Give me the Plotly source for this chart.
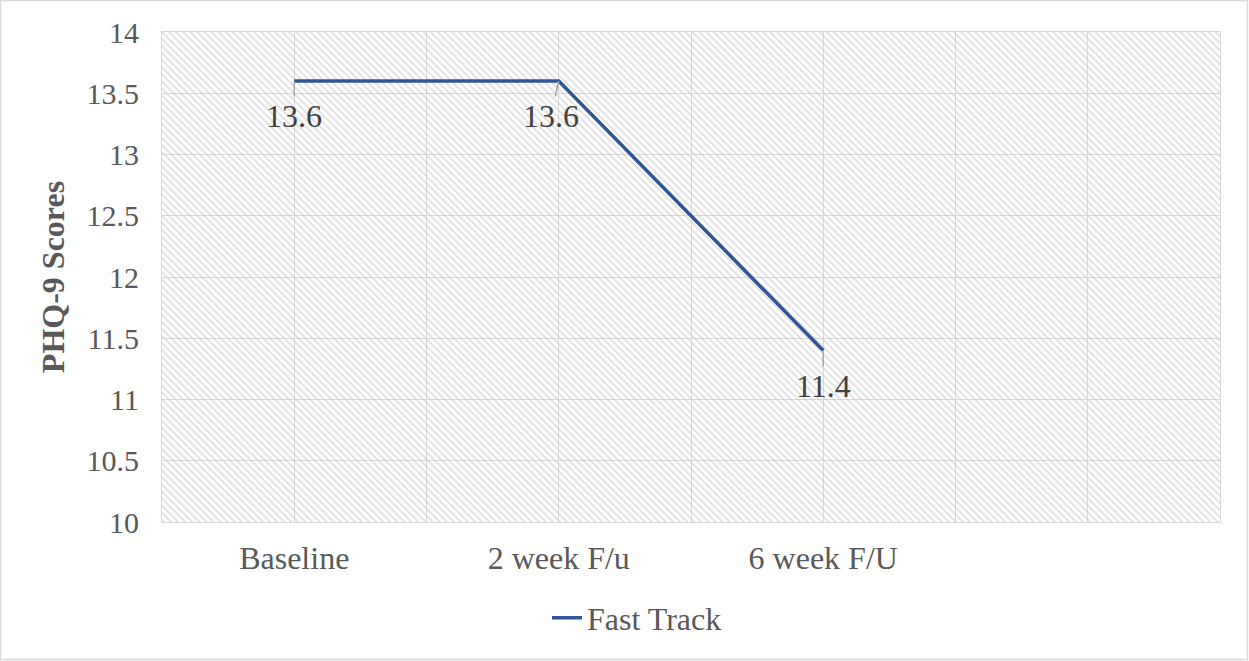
import plotly.graph_objects as go

categories = ["Baseline", "2 week F/u", "6 week F/U"]
n_slots = 4  # category slots on the axis (last one empty)
series_name = "Fast Track"
values = [13.6, 13.6, 11.4]
label_dx = [0, -8, 0]  # horizontal nudges of data labels
y_min, y_max, y_step = 10, 14, 0.5

FONT = "Liberation Serif, Times New Roman, serif"
TXT = "#595959"
GRID = "#d9d9d9"
LINE = "#2f5597"
FS = 32

x_idx = list(range(len(categories)))
x_lo, x_hi = -0.5, n_slots - 0.5

fig = go.Figure()

# hatched plot-area background
fig.add_trace(go.Scatter(
    x=[x_lo, x_hi, x_hi, x_lo, x_lo], y=[y_min, y_min, y_max, y_max, y_min],
    mode="lines", line=dict(width=0), fill="toself",
    fillcolor="rgba(0,0,0,0)",
    fillpattern=dict(shape="\\", fgcolor="#c4c4c4", bgcolor="rgba(0,0,0,0)", size=5, solidity=0.4),
    hoverinfo="skip", showlegend=False))

fig.add_trace(go.Scatter(
    x=x_idx, y=values, mode="lines", name=series_name,
    line=dict(color=LINE, width=3.5)))

# data labels with leader lines
for xi, v, dx in zip(x_idx, values, label_dx):
    fig.add_annotation(x=xi, y=v, text=f"{v:.1f}", showarrow=True, arrowhead=0,
                       arrowcolor="#a6a6a6", arrowwidth=1.5, ax=dx, ay=35,
                       font=dict(family=FONT, size=FS, color="#404040"))

# ticks: gridlines every half slot, labels at category centres
tickvals, ticktext = [], []
v = x_lo
while v <= x_hi + 1e-9:
    tickvals.append(v)
    if abs(v - round(v)) < 1e-9 and 0 <= round(v) < len(categories):
        ticktext.append(categories[int(round(v))])
    else:
        ticktext.append("")
    v += 0.5

fig.update_layout(
    width=1249, height=661,
    margin=dict(l=162, r=29, t=32, b=139),
    paper_bgcolor="white", plot_bgcolor="white",
    font=dict(family=FONT, size=FS, color=TXT),
    showlegend=True,
    legend=dict(orientation="h", xref="container", yref="container", x=0.51, y=0.065,
                xanchor="center", yanchor="middle", font=dict(family=FONT, size=FS, color=TXT)),
    xaxis=dict(range=[x_lo, x_hi], tickvals=tickvals, ticktext=ticktext, showgrid=True,
               gridcolor=GRID, gridwidth=1, showline=True, linecolor=GRID, mirror=True,
               zeroline=False, ticks="", ticklabelstandoff=8,
               tickfont=dict(family=FONT, size=FS, color=TXT)),
    yaxis=dict(range=[y_min, y_max], dtick=y_step, tick0=y_min, showgrid=True, gridcolor=GRID,
               showline=True, linecolor=GRID, mirror=True, zeroline=False, ticks="",
               ticklabelstandoff=16,
               title=dict(text="<b>PHQ-9 Scores</b>", font=dict(family=FONT, size=FS, color=TXT), standoff=12),
               tickfont=dict(family=FONT, size=30, color=TXT)),
    shapes=[dict(type="rect", xref="paper", yref="paper",
                 x0=-161.5 / 1058, x1=(1247.5 - 162) / 1058,
                 y0=-(139 - 1.5) / 490, y1=1 + 31.5 / 490,
                 line=dict(color=GRID, width=1.5), fillcolor="rgba(0,0,0,0)", layer="below")],
)

fig.write_html("out.html", config={"displayModeBar": False},
               post_script="document.body.style.margin='0';")
